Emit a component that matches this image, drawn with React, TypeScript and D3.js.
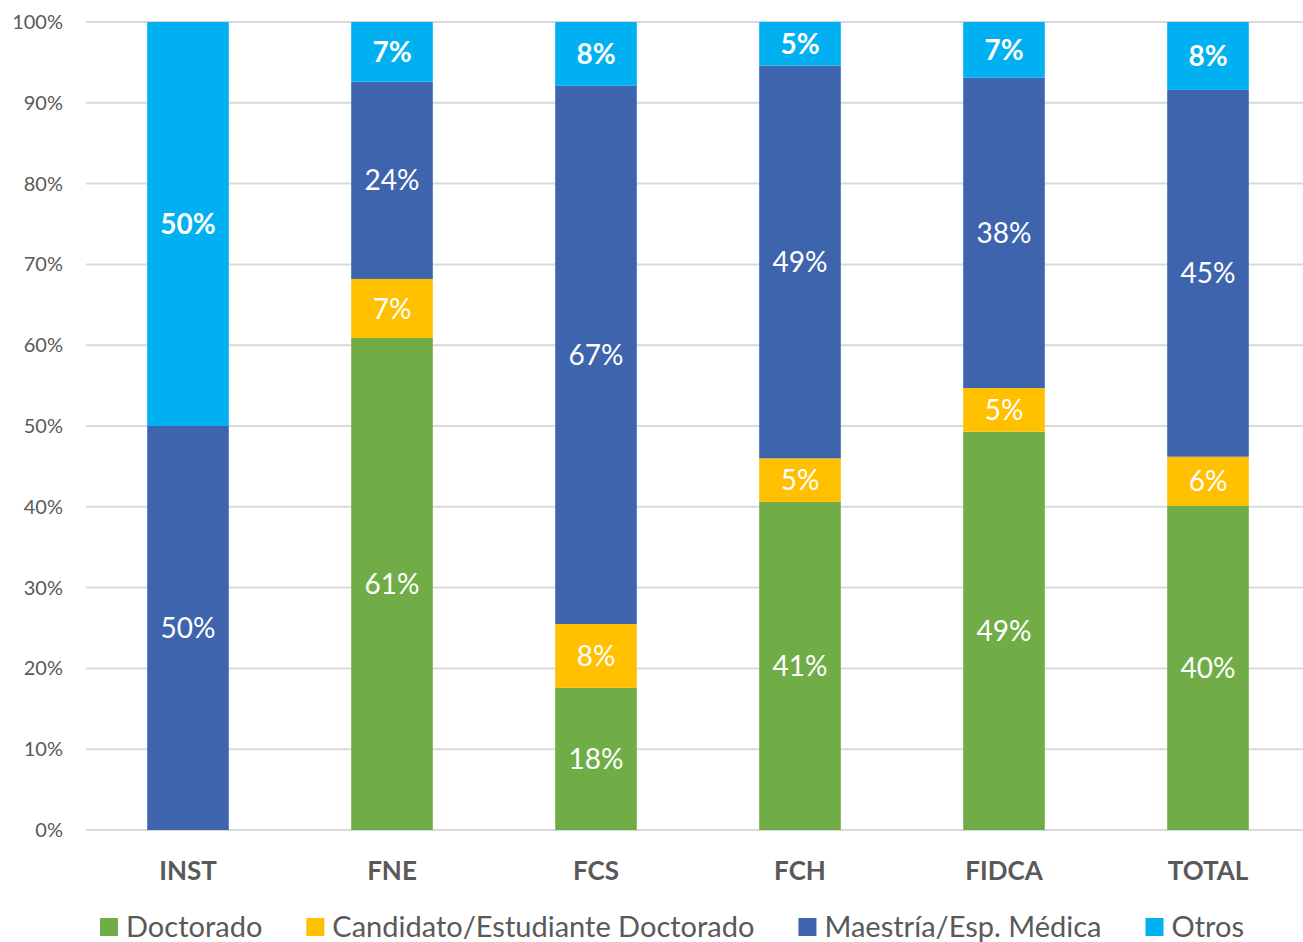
import { useRef, useEffect } from "react";
import * as d3 from "d3";

const categories = ["INST", "FNE", "FCS", "FCH", "FIDCA", "TOTAL"];
const seriesNames = ["Doctorado", "Candidato/Estudiante Doctorado", "Maestría/Esp. Médica", "Otros"];
const doctorado = [0, 60.9, 17.6, 40.6, 49.3, 40.1];
const candidato = [0, 7.3, 7.9, 5.4, 5.4, 6.1];
const maestria = [50, 24.4, 66.6, 48.6, 38.4, 45.4];
const otros = [50, 7.4, 7.9, 5.4, 6.9, 8.4];
const yTicks = [0, 10, 20, 30, 40, 50, 60, 70, 80, 90, 100];

const colors = ["#70AD47", "#FFC000", "#3E64AD", "#00B0F0"];
const font = "Lato, 'Noto Sans', sans-serif";

const App = () => {
  const svgRef = useRef<SVGSVGElement>(null);

  useEffect(() => {
    const width = 1303;
    const height = 942;
    const svg = d3.select(svgRef.current).attr("width", width).attr("height", height);
    svg.selectAll("*").remove();

    const rows = categories.map((c, i) => ({
      cat: c,
      Doctorado: doctorado[i],
      Candidato: candidato[i],
      Maestria: maestria[i],
      Otros: otros[i],
    }));
    const keys = ["Doctorado", "Candidato", "Maestria", "Otros"];
    const stacked = d3.stack<any>().keys(keys)(rows);

    const x = d3.scaleBand().domain(categories).range([86, 1310]).paddingInner(0.6).paddingOuter(0.3);
    const y = d3.scaleLinear().domain([0, 100]).range([830, 22]);

    // grid
    svg
      .append("g")
      .selectAll("line")
      .data(yTicks)
      .join("line")
      .attr("x1", 86)
      .attr("x2", width)
      .attr("y1", (d) => y(d))
      .attr("y2", (d) => y(d))
      .attr("stroke", "#d9d9d9")
      .attr("stroke-width", 2);

    svg
      .append("g")
      .selectAll("text")
      .data(yTicks)
      .join("text")
      .attr("x", 63)
      .attr("y", (d) => y(d))
      .attr("dy", "0.35em")
      .attr("text-anchor", "end")
      .attr("font-family", font)
      .attr("font-size", 20)
      .attr("fill", "#595959")
      .text((d) => d + "%");

    // bars
    stacked.forEach((layer, si) => {
      const g = svg.append("g");
      g.selectAll("rect")
        .data(layer)
        .join("rect")
        .attr("x", (d: any) => x(d.data.cat)!)
        .attr("width", x.bandwidth())
        .attr("y", (d) => y(d[1]))
        .attr("height", (d) => y(d[0]) - y(d[1]))
        .attr("fill", colors[si]);
      g.selectAll("text")
        .data(layer.filter((d) => d[1] - d[0] > 0))
        .join("text")
        .attr("x", (d: any) => x(d.data.cat)! + x.bandwidth() / 2)
        .attr("y", (d) => (y(d[0]) + y(d[1])) / 2)
        .attr("dy", "0.36em")
        .attr("text-anchor", "middle")
        .attr("font-family", font)
        .attr("font-size", 28)
        .attr("font-weight", si === 3 ? 700 : 400)
        .attr("fill", "#ffffff")
        .text((d) => Math.round(d[1] - d[0]) + "%");
    });

    // category axis
    svg
      .append("g")
      .selectAll("text")
      .data(categories)
      .join("text")
      .attr("x", (d) => x(d)! + x.bandwidth() / 2)
      .attr("y", 871)
      .attr("dy", "0.36em")
      .attr("text-anchor", "middle")
      .attr("font-family", font)
      .attr("font-size", 26)
      .attr("font-weight", 700)
      .attr("fill", "#595959")
      .text((d) => d);

    // legend
    const legend = svg.append("g");
    let lx = 100;
    seriesNames.forEach((name, i) => {
      legend.append("rect").attr("x", lx).attr("y", 918).attr("width", 18).attr("height", 18).attr("fill", colors[i]);
      const t = legend
        .append("text")
        .attr("x", lx + 26)
        .attr("y", 927)
        .attr("dy", "0.36em")
        .attr("font-family", font)
        .attr("font-size", 29)
        .attr("fill", "#595959")
        .text(name);
      const w = (t.node() as SVGTextElement).getComputedTextLength();
      lx = lx + 26 + w + 44;
    });
  }, []);

  return (
    <div>
      <svg ref={svgRef} style={{ display: "block", position: "absolute", left: 0, top: 0 }}></svg>
    </div>
  );
};

export default App;
